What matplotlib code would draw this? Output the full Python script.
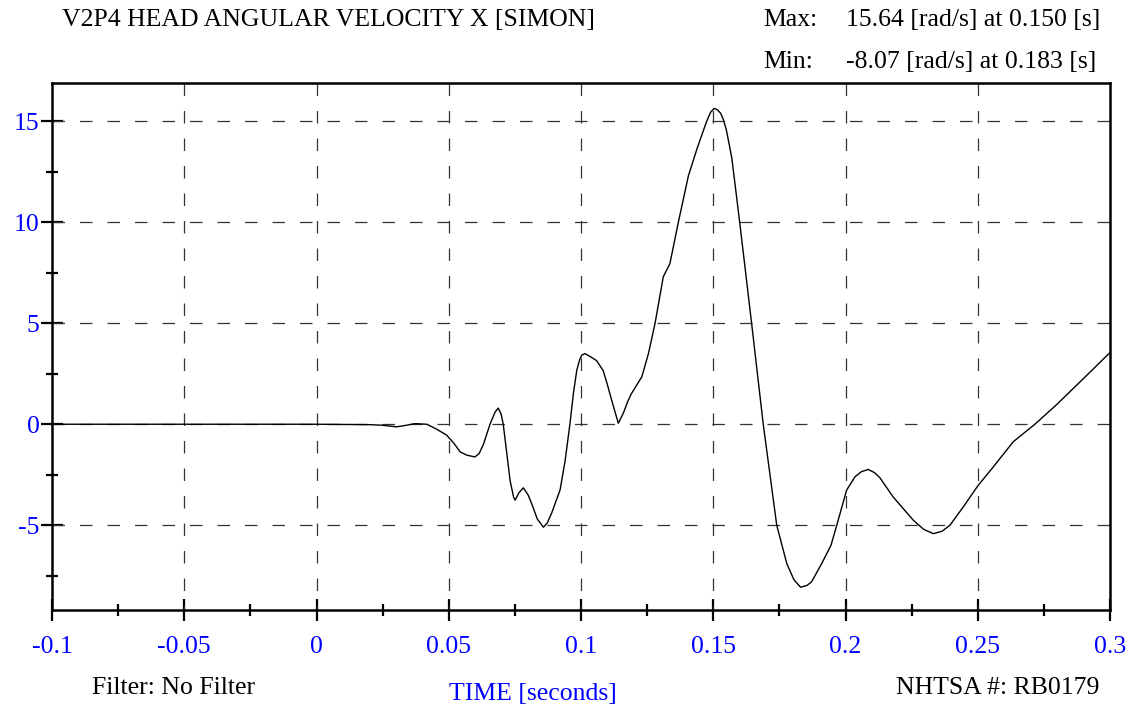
import matplotlib
matplotlib.use('Agg')
import matplotlib.pyplot as plt
import numpy as np

plt.rcParams['font.family'] = ['Liberation Serif', 'DejaVu Serif']

# head angular velocity X
t = [-0.1, 0.0, 0.02, 0.025, 0.0303, 0.034, 0.0372, 0.0417, 0.0455, 0.0492,
     0.052, 0.0543, 0.0568, 0.0599, 0.0615, 0.0631, 0.0656, 0.0675, 0.0687,
     0.0698, 0.0706, 0.072, 0.0732, 0.0745, 0.0751, 0.0765, 0.0782, 0.080,
     0.0814, 0.0835, 0.0858, 0.0872, 0.0889, 0.0921, 0.094, 0.0958, 0.0972,
     0.0984, 0.0995, 0.1003, 0.1015, 0.1035, 0.1059, 0.1084, 0.110, 0.1116,
     0.1141, 0.116, 0.1179, 0.119, 0.123, 0.1255, 0.128, 0.1311, 0.1336,
     0.1368, 0.1406, 0.144, 0.1475, 0.149, 0.1503, 0.1515, 0.1528, 0.1538,
     0.155, 0.157, 0.160, 0.1645, 0.1689, 0.174, 0.1778, 0.1805, 0.183,
     0.1855, 0.1872, 0.191, 0.1945, 0.1967, 0.2004, 0.2036, 0.206, 0.2086,
     0.211, 0.213, 0.218, 0.2256, 0.2295, 0.2332, 0.2365, 0.2395, 0.2445,
     0.2502, 0.2559, 0.2634, 0.2716, 0.2798, 0.2887, 0.3]
v = [0.0, 0.0, -0.02, -0.05, -0.13, -0.05, 0.03, 0.0, -0.25, -0.54,
     -0.95, -1.37, -1.53, -1.62, -1.45, -1.0, 0.0, 0.6, 0.8,
     0.5, 0.0, -1.5, -2.8, -3.6, -3.76, -3.4, -3.15, -3.5,
     -3.95, -4.7, -5.1, -4.9, -4.4, -3.25, -1.8, 0.0, 1.6,
     2.67, 3.2, 3.42, 3.5, 3.35, 3.15, 2.65, 1.95, 1.19,
     0.05, 0.55, 1.2, 1.5, 2.35, 3.5, 5.0, 7.3, 7.95,
     10.0, 12.3, 13.7, 15.0, 15.45, 15.64, 15.58, 15.4, 15.1,
     14.55, 13.2, 10.0, 5.0, 0.0, -5.0, -6.9, -7.7, -8.07,
     -7.98, -7.8, -6.9, -6.0, -5.0, -3.27, -2.6, -2.35, -2.24,
     -2.4, -2.65, -3.6, -4.75, -5.2, -5.42, -5.3, -5.0, -4.1,
     -3.02, -2.11, -0.87, 0.0, 0.97, 2.1, 3.55]

xticks = [-0.1, -0.05, 0, 0.05, 0.1, 0.15, 0.2, 0.25, 0.3]
xlabels = ['-0.1', '-0.05', '0', '0.05', '0.1', '0.15', '0.2', '0.25', '0.3']
yticks = [-5, 0, 5, 10, 15]
ylabels = ['-5', '0', '5', '10', '15']
xmin, xmax = -0.1, 0.3
ymin, ymax = -9.2, 16.9

title = 'V2P4 HEAD ANGULAR VELOCITY X [SIMON]'
max_txt = '15.64 [rad/s] at 0.150 [s]'
min_txt = '-8.07 [rad/s] at 0.183 [s]'

fs = 18.5

fig = plt.figure(figsize=(11.34, 7.08), dpi=100)
ax = fig.add_axes([52/1134, 98/708, 1058/1134, 527/708])

dash = (0, (10, 12))
ax.vlines(xticks[1:-1], ymax, ymin, colors='#333333', linewidth=0.9, linestyle=dash)
ax.hlines(yticks, xmin, xmax, colors='#333333', linewidth=0.9, linestyle=dash)

ax.plot(t, v, color='black', linewidth=1.0)

ax.set_xlim(xmin, xmax)
ax.set_ylim(ymin, ymax)
ax.set_xticks(xticks)
ax.set_xticklabels(xlabels)
ax.set_yticks(yticks)
ax.set_yticklabels(ylabels)
ax.set_xticks(np.arange(-0.075, 0.3, 0.05), minor=True)
ax.set_yticks([-7.5, -2.5, 2.5, 7.5, 12.5], minor=True)

ax.tick_params(which='major', direction='inout', length=16, width=1.6,
               labelsize=fs, labelcolor='#0000ff', color='black')
ax.tick_params(which='minor', direction='inout', length=9, width=1.6, color='black')
ax.tick_params(axis='x', which='major', pad=11)
ax.tick_params(axis='y', which='major', pad=1)

for s in ax.spines.values():
    s.set_linewidth(1.8)

fig.text(62/1134, 1 - 20/708, title, fontsize=fs, va='center', ha='left')
fig.text(763/1134, 1 - 20/708, 'Max:', fontsize=fs, va='center', ha='left')
fig.text(846/1134, 1 - 20/708, max_txt, fontsize=fs, va='center', ha='left')
fig.text(763/1134, 1 - 62/708, 'Min:', fontsize=fs, va='center', ha='left')
fig.text(846/1134, 1 - 62/708, min_txt, fontsize=fs, va='center', ha='left')

fig.text(92/1134, 1 - 688/708, 'Filter: No Filter', fontsize=fs, va='center', ha='left')
fig.text(533/1134, 1 - 694/708, 'TIME [seconds]', fontsize=fs, va='center', ha='center',
         color='#0000ff')
fig.text(1099/1134, 1 - 688/708, 'NHTSA #: RB0179', fontsize=fs, va='center', ha='right')

fig.savefig('out.png', dpi=100)
